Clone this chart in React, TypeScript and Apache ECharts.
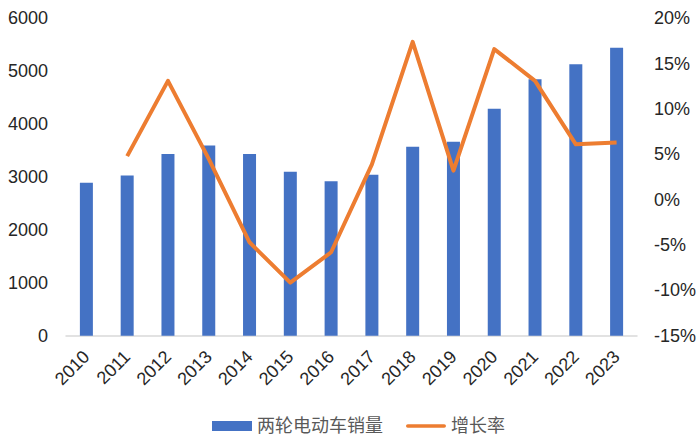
import React, { useEffect, useRef } from "react";
import * as echarts from "echarts";

const years = ["2010","2011","2012","2013","2014","2015","2016","2017","2018","2019","2020","2021","2022","2023"];
const sales = [2890, 3030, 3433, 3597, 3433, 3098, 2922, 3041, 3571, 3666, 4290, 4846, 5130, 5444];
const growth: (number | null)[] = [null, 4.8, 13.1, 4.5, -4.7, -9.15, -5.8, 3.9, 17.4, 3.2, 16.6, 13.1, 6.1, 6.3];
const salesName = "两轮电动车销量";
const growthName = "增长率";

const FONT = "'Liberation Sans', Arial, 'Noto Sans CJK SC', sans-serif";

export default function App() {
  const ref = useRef<HTMLDivElement>(null);
  useEffect(() => {
    document.body.style.margin = "0";
    const chart = echarts.init(ref.current!, null, { renderer: "svg" });
    chart.setOption({
      animation: false,
      backgroundColor: "#ffffff",
      textStyle: { fontFamily: FONT },
      grid: { left: 66, right: 63, top: 18.3, bottom: 105.3, containLabel: false },
      legend: {
        left: 207,
        top: 412,
        itemWidth: 40,
        itemHeight: 10,
        itemGap: 23,
        textStyle: { fontSize: 18, color: "#595959", fontFamily: FONT },
        data: [
          { name: salesName, icon: "rect" },
          { name: growthName, icon: "path://M2,0 L42,0 A2,2 0 0 1 42,4 L2,4 A2,2 0 0 1 2,0 Z" },
        ],
      },
      xAxis: {
        type: "category",
        data: years,
        axisLine: { lineStyle: { color: "#d9d9d9", width: 1.5 } },
        axisTick: { show: false },
        axisLabel: { rotate: 45, fontSize: 18, color: "#262626", margin: 18, interval: 0 },
      },
      yAxis: [
        {
          type: "value",
          min: 0,
          max: 6000,
          interval: 1000,
          axisLine: { show: false },
          axisTick: { show: false },
          splitLine: { show: false },
          axisLabel: { fontSize: 18, color: "#262626", margin: 18, formatter: (v: number) => String(v) },
        },
        {
          type: "value",
          min: -15,
          max: 20,
          interval: 5,
          axisLine: { show: false },
          axisTick: { show: false },
          splitLine: { show: false },
          axisLabel: { fontSize: 18, color: "#262626", margin: 17, formatter: (v: number) => `${v}%` },
        },
      ],
      series: [
        {
          name: salesName,
          type: "bar",
          data: sales,
          barWidth: 13,
          itemStyle: { color: "#4472C4" },
          yAxisIndex: 0,
        },
        {
          name: growthName,
          type: "line",
          data: growth,
          yAxisIndex: 1,
          symbol: "none",
          lineStyle: { color: "#ED7D31", width: 4, join: "round" },
          itemStyle: { color: "#ED7D31" },
        },
      ],
    });
    return () => chart.dispose();
  }, []);
  return <div ref={ref} style={{ width: 700, height: 441, position: "absolute", left: 0, top: 0 }} />;
}
